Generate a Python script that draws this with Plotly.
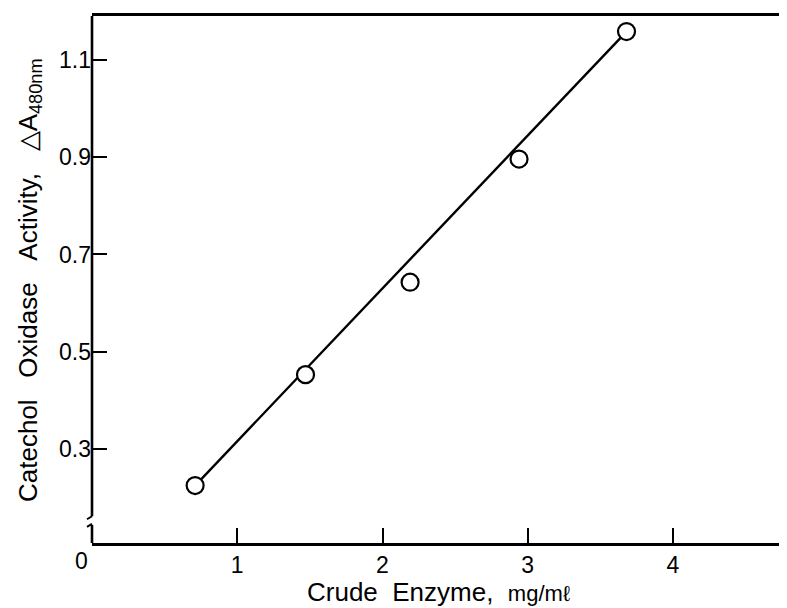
import plotly.graph_objects as go

# ---- data ----
enzyme_mg_ml = [0.71, 1.47, 2.19, 2.94, 3.68]
activity_a480 = [0.225, 0.453, 0.643, 0.896, 1.158]
fit_x = [0.71, 3.68]
fit_y = [0.225, 1.158]
x_tick_vals = [1, 2, 3, 4]
x_tick_text = ["1", "2", "3", "4"]
y_tick_vals = [0.3, 0.5, 0.7, 0.9, 1.1]
y_tick_text = ["0.3", "0.5", "0.7", "0.9", "1.1"]
x_range = [0, 4.84]
y_range = [0.107, 1.19]
y_break = [0.144, 0.162]  # gap in the y axis

FONT = "Liberation Sans, Arial, Helvetica, sans-serif"
W, H = 787, 608
ML, MR, MT, MB = 84, 0, 8, 73
NB = "\u00a0"


def py(v):
    return (v - y_range[0]) / (y_range[1] - y_range[0])


fig = go.Figure()
fig.add_trace(go.Scatter(x=fit_x, y=fit_y, mode="lines",
                         line=dict(color="black", width=2.4),
                         hoverinfo="skip", showlegend=False))
fig.add_trace(go.Scatter(x=enzyme_mg_ml, y=activity_a480, mode="markers",
                         marker=dict(symbol="circle", size=17, color="white",
                                     line=dict(color="black", width=2.2)),
                         showlegend=False, cliponaxis=False))

shapes = []
ax_line = dict(color="black", width=2.6)
# y axis drawn as two pieces with a break
shapes.append(dict(type="line", xref="paper", yref="paper", x0=0, x1=0,
                   y0=1, y1=py(y_break[1]), line=ax_line))
shapes.append(dict(type="line", xref="paper", yref="paper", x0=0, x1=0,
                   y0=py(y_break[0]), y1=0, line=ax_line))
# break marks
dx = 5 / (W - ML - MR)
dy = 3 / (H - MT - MB)
shapes.append(dict(type="line", xref="paper", yref="paper",
                   x0=-dx, x1=0, y0=py(y_break[1]) - dy, y1=py(y_break[1]),
                   line=dict(color="black", width=2)))
shapes.append(dict(type="line", xref="paper", yref="paper",
                   x0=-dx, x1=0, y0=py(y_break[0]) - dy * 0.6, y1=py(y_break[0]) + dy * 0.4,
                   line=dict(color="black", width=2)))

annotations = [
    dict(text="0", xref="x", yref="paper", x=0, y=0, xanchor="center", yanchor="top",
         xshift=-11, yshift=-3, showarrow=False, font=dict(family=FONT, size=23, color="black")),
    dict(text="Crude" + NB * 2 + "Enzyme," + NB * 2 + "<span style='font-size:22px'>mg/m\u2113</span>",
         xref="paper", yref="paper", x=(431 - ML) / (W - ML - MR), y=0,
         xanchor="center", yanchor="middle", yshift=-49, showarrow=False,
         font=dict(family=FONT, size=26, color="black")),
    dict(text="Catechol" + NB * 3 + "Oxidase" + NB * 3 + "Activity," + NB * 3 + "\u25B3A<sub>480nm</sub>",
         xref="paper", yref="paper", x=0, y=(535 - 272) / (H - MT - MB),
         xanchor="center", yanchor="middle", xshift=-63, textangle=-90, showarrow=False,
         font=dict(family=FONT, size=26, color="black")),
]

fig.update_layout(
    width=W, height=H,
    margin=dict(l=ML, r=MR, t=MT, b=MB, pad=0),
    paper_bgcolor="white", plot_bgcolor="white",
    showlegend=False,
    shapes=shapes, annotations=annotations,
    xaxis=dict(range=x_range, tickmode="array", tickvals=x_tick_vals, ticktext=x_tick_text,
               ticks="inside", ticklen=15, tickwidth=2.4, tickcolor="black",
               showline=True, linecolor="black", linewidth=2.6, mirror=True,
               showgrid=False, zeroline=False,
               tickfont=dict(family=FONT, size=23, color="black")),
    yaxis=dict(range=y_range, tickmode="array", tickvals=y_tick_vals, ticktext=y_tick_text,
               ticks="inside", ticklen=15, tickwidth=2.4, tickcolor="black",
               showline=False, showgrid=False, zeroline=False,
               tickfont=dict(family=FONT, size=23, color="black")),
)

fig.write_html("out.html")
